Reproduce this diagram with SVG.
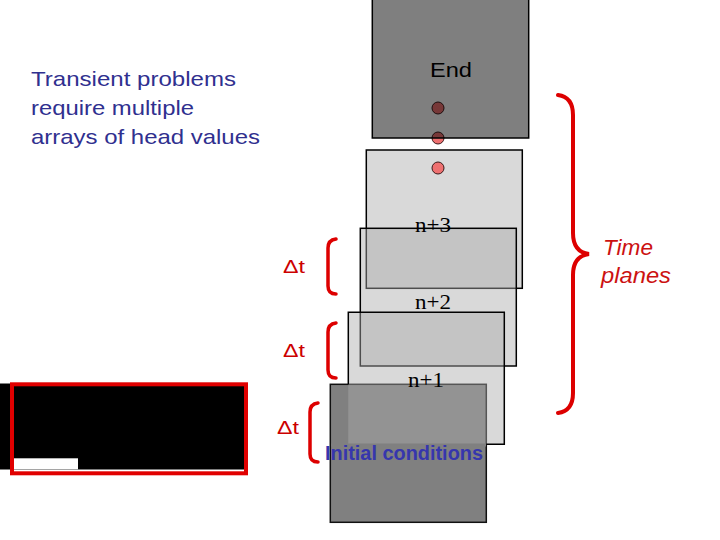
<svg xmlns="http://www.w3.org/2000/svg" width="720" height="540" viewBox="0 0 720 540">
<style>
.sans{font-family:"Liberation Sans",Arial,sans-serif}
.serif{font-family:"Liberation Serif","Times New Roman",serif;font-size:21px;fill:#000}
.plane{fill:#aaaaaa;fill-opacity:0.45;stroke:#000;stroke-width:1.5}
.outline{fill:none;stroke:#000;stroke-width:1.5}
.dt{font-family:"Liberation Sans",Arial,sans-serif;font-size:19px;fill:#cc0000}
.brk{fill:none;stroke:#dd0000;stroke-width:3.5;stroke-linecap:round}
.dot{fill:#ee7070;stroke:#3a1a1a;stroke-width:1}
</style>
<rect width="720" height="540" fill="#fff"/>

<g id="intro-text" class="sans" font-size="21" fill="#30308f">
<text x="31" y="86" textLength="205" lengthAdjust="spacingAndGlyphs">Transient problems</text>
<text x="31" y="115" textLength="163" lengthAdjust="spacingAndGlyphs">require multiple</text>
<text x="31" y="144" textLength="229" lengthAdjust="spacingAndGlyphs">arrays of head values</text>
</g>

<g id="initial-plane">
<rect x="330.3" y="384.3" width="156" height="138" fill="#808080" stroke="#111" stroke-width="1.5"/>
</g>

<g id="plane-n3">
<rect class="plane" x="366.3" y="150" width="156" height="138.3"/>
</g>
<g id="plane-n2">
<rect class="plane" x="360.3" y="228.3" width="156" height="137.7"/>
</g>
<g id="plane-n1">
<rect x="348.3" y="312.3" width="156" height="132" fill="#aaaaaa" fill-opacity="0.45"/>
<path class="outline" d="M348.3,384.3 L348.3,312.3 L504.3,312.3 L504.3,444.3 L486.3,444.3"/>
</g>

<g id="dots">
<circle class="dot" cx="438" cy="108" r="6"/>
<circle class="dot" cx="438" cy="138" r="6"/>
<circle class="dot" cx="438" cy="168" r="6"/>
</g>

<g id="end-plane">
<rect x="372.3" y="-1" width="156.4" height="139" fill="#000" fill-opacity="0.5" stroke="#000" stroke-width="1.5"/>
<text class="sans" x="430" y="77" font-size="21" fill="#000" textLength="42" lengthAdjust="spacingAndGlyphs">End</text>
</g>

<g id="plane-labels">
<text class="serif" x="415" y="232" textLength="36" lengthAdjust="spacingAndGlyphs">n+3</text>
<text class="serif" x="415" y="309" textLength="36" lengthAdjust="spacingAndGlyphs">n+2</text>
<text class="serif" x="408" y="387" textLength="36" lengthAdjust="spacingAndGlyphs">n+1</text>
</g>

<g id="initial-label">
<rect x="331" y="443.5" width="155" height="3" fill="#808080"/>
<text class="sans" x="325" y="460" font-size="20" font-weight="bold" fill="#3636ad" textLength="158" lengthAdjust="spacingAndGlyphs">Initial conditions</text>
</g>

<g id="hidden-block">
<rect x="0" y="383.5" width="245" height="86" fill="#000"/>
<rect x="14" y="458.3" width="64" height="11" fill="#fff"/>
<rect x="12" y="384.3" width="234" height="89" fill="none" stroke="#e00000" stroke-width="4"/>
</g>

<g id="connectors">
<path class="brk" d="M336,239 Q328,240 328,248 L328,286 Q328,294 336,294"/>
<path class="brk" d="M336,323 Q328,324 328,332 L328,370 Q328,378 336,378"/>
<path class="brk" d="M318,403 Q310,404 310,412 L310,454 Q310,462 318,462"/>
<path d="M558,95 Q573,97 573,115 L573,233 Q573,252 589,254 Q573,256 573,275 L573,393 Q573,411 558,413" fill="none" stroke="#dd0000" stroke-width="4" stroke-linecap="round"/>
</g>

<g id="dt-labels">
<text class="dt" x="283" y="273" textLength="22" lengthAdjust="spacingAndGlyphs">Δt</text>
<text class="dt" x="283" y="357" textLength="22" lengthAdjust="spacingAndGlyphs">Δt</text>
<text class="dt" x="277" y="434" textLength="22" lengthAdjust="spacingAndGlyphs">Δt</text>
</g>

<g id="time-planes-label" class="sans" font-size="22" font-style="italic" fill="#cc1111">
<text x="603" y="255" textLength="50" lengthAdjust="spacingAndGlyphs">Time</text>
<text x="601" y="283" textLength="70" lengthAdjust="spacingAndGlyphs">planes</text>
</g>
</svg>
